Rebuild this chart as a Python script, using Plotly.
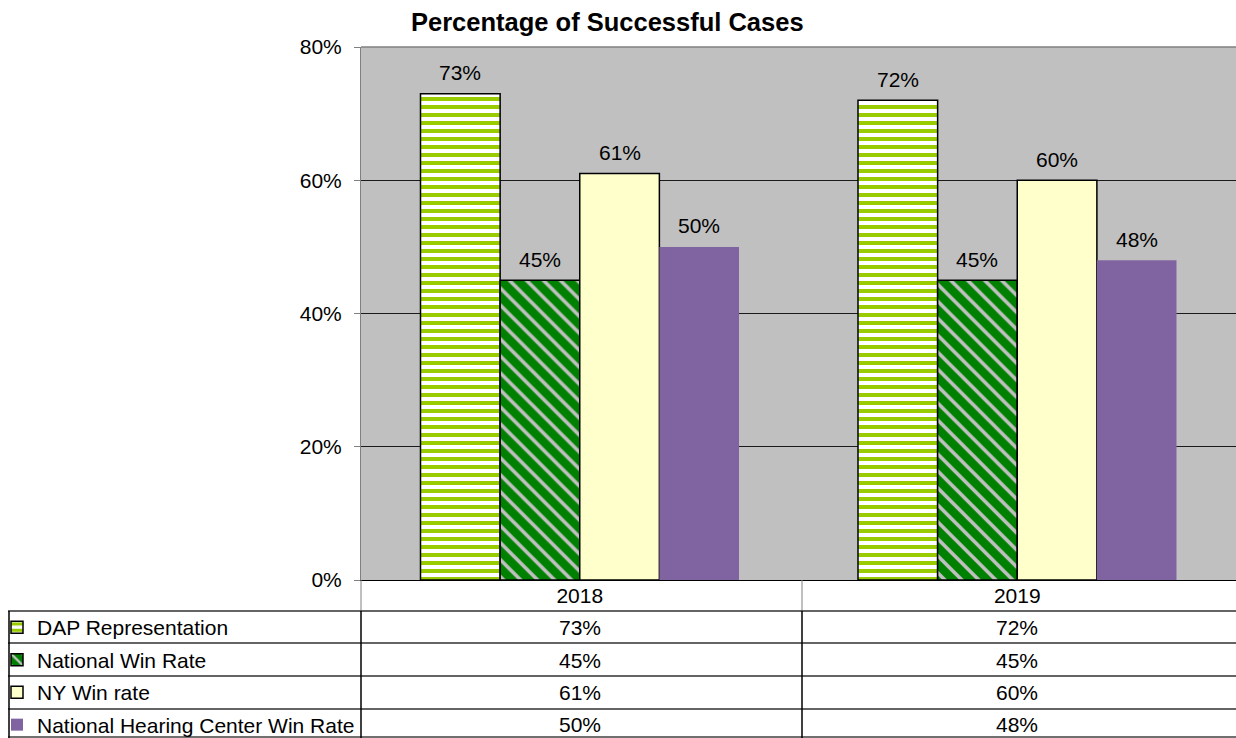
import plotly.graph_objects as go

years = ["2018", "2019"]
series_names = [
    "DAP Representation",
    "National Win Rate",
    "NY Win rate",
    "National Hearing Center Win Rate",
]
dap = [73, 72]
national = [45, 45]
ny = [61, 60]
hearing = [50, 48]
all_values = [dap, national, ny, hearing]

FONT = "Arial, Liberation Sans, sans-serif"
FS = 21
W, H = 1236, 738
PL, PR, PT, PB = 361, 1236, 47, 580   # plot area in pixels
BAR_W = (PR - PL) / 2 * (1 - 0.272) / 4


def px(x):
    # pixel -> paper x
    return (x - PL) / (PR - PL)


def py(y):
    # pixel -> paper y
    return (PB - y) / (PB - PT)


styles = [
    dict(color="#99cc00", line=dict(color="black", width=1.5),
         pattern=dict(shape="-", fgcolor="#99cc00", bgcolor="white", size=8, solidity=0.5, fillmode="replace")),
    dict(color="#008000", line=dict(color="black", width=1.5),
         pattern=dict(shape="\\", fgcolor="#c0c0c0", bgcolor="#008000", size=12, solidity=0.3, fillmode="replace")),
    dict(color="#ffffcc", line=dict(color="black", width=1.5)),
    dict(color="#8064a2", line=dict(width=0)),
]

fig = go.Figure()
for name, vals, st in zip(series_names, all_values, styles):
    fig.add_trace(go.Bar(x=years, y=vals, name=name, marker=st, legendgroup=name))

# value labels above the bars
for k, vals in enumerate(all_values):
    for i, v in enumerate(vals):
        fig.add_annotation(x=i, y=v, xref="x", yref="y", text=f"{v}%", showarrow=False,
                           xshift=(k - 1.5) * BAR_W, yshift=21, yanchor="middle",
                           font=dict(family=FONT, size=FS))

fig.update_layout(
    width=W, height=H,
    margin=dict(l=PL, r=W - PR, t=PT, b=H - PB, autoexpand=False),
    paper_bgcolor="white", plot_bgcolor="#c0c0c0",
    font=dict(family=FONT, size=FS, color="black"),
    barmode="group", bargap=0.272, bargroupgap=0,
    showlegend=True,
    legend=dict(
        x=px(7), y=py(607), xanchor="left", yanchor="top",
        font=dict(family=FONT, size=FS), tracegroupgap=2.2,
        indentation=-10,
        bgcolor="rgba(0,0,0,0)", borderwidth=0,
    ),
)
fig.update_xaxes(
    type="category",
    showline=True, linecolor="black", linewidth=1,
    ticks="", tickfont=dict(size=FS), ticklabelstandoff=-3, fixedrange=True,
)
fig.update_yaxes(
    range=[0, 80], dtick=20, ticksuffix="%",
    showgrid=True, gridcolor="#1a1a1a", gridwidth=1,
    showline=True, linecolor="#808080", linewidth=1,
    ticks="outside", ticklen=6, tickcolor="#808080",
    tickfont=dict(size=FS), ticklabelstandoff=8, zeroline=False,
)

shapes = []
# top border of plot area
shapes.append(dict(type="line", xref="paper", yref="paper", x0=0, x1=1, y0=1, y1=1,
                   line=dict(color="#808080", width=1.5)))
# header row dividers
for x in (361, 802):
    shapes.append(dict(type="line", xref="paper", yref="paper", x0=px(x), x1=px(x),
                       y0=py(580), y1=py(611), line=dict(color="#808080", width=1)))
# table horizontal lines
for y in (611, 643, 676, 709):
    shapes.append(dict(type="line", xref="paper", yref="paper", x0=px(8), x1=1,
                       y0=py(y), y1=py(y), line=dict(color="#303030", width=1.5)))
shapes.append(dict(type="line", xref="paper", yref="paper", x0=px(8), x1=1,
                   y0=py(737), y1=py(737), line=dict(color="#404040", width=1.5)))
# table vertical lines
for x in (9, 361, 802):
    shapes.append(dict(type="line", xref="paper", yref="paper", x0=px(x), x1=px(x),
                       y0=py(611), y1=py(738), line=dict(color="black", width=1.5)))
fig.update_layout(shapes=shapes)

# table values (category index on the x axis)
row_centers = [627, 660, 692, 724]
for vals, yc in zip(all_values, row_centers):
    for i, v in enumerate(vals):
        fig.add_annotation(x=i, xref="x", y=py(yc), yref="paper", yanchor="middle",
                           text=f"{v}%", showarrow=False, font=dict(family=FONT, size=FS))

fig.add_annotation(x=px(607), y=py(22), xref="paper", yref="paper",
                   xanchor="center", yanchor="middle",
                   text="<b>Percentage of Successful Cases</b>", showarrow=False,
                   font=dict(family=FONT, size=25.5))

fig.write_html(
    "out.html",
    config={"displayModeBar": False},
    post_script="document.body.style.margin='0';document.body.style.overflow='hidden';",
)
